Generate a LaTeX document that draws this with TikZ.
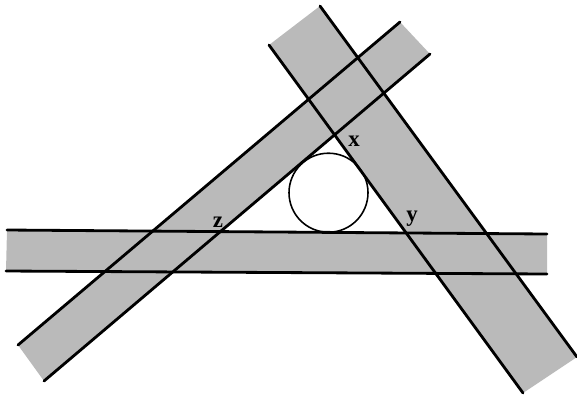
\documentclass[tikz,border=0pt]{standalone}
\usepackage{fontspec}
\newfontfamily\labelfont{Liberation Serif}

\begin{document}
\begin{tikzpicture}[
    x=0.02cm, y=-0.02cm,
    band/.style={fill=black!27, draw=none},
    edge/.style={line width=1.6pt, draw=black, line cap=round},
    ring/.style={line width=0.9pt, draw=black, fill=white},
    tag/.style={font=\labelfont\bfseries\fontsize{13}{15}\selectfont, inner sep=0pt}
]
\useasboundingbox (0,0) rectangle (577,397);
% horizontal band
\coordinate (h1) at (7,230);
\coordinate (h2) at (547,234);
\coordinate (h3) at (547,274);
\coordinate (h4) at (6,271);
% rising band
\coordinate (l1) at (18,345);
\coordinate (l2) at (400,22);
\coordinate (l3) at (430,54);
\coordinate (l4) at (44,381);
% falling band
\coordinate (r1) at (269,45);
\coordinate (r2) at (320,6);
\coordinate (r3) at (577,357);
\coordinate (r4) at (523,393);

\fill[band] (h1) -- (h2) -- (h3) -- (h4) -- cycle;
\fill[band] (l1) -- (l2) -- (l3) -- (l4) -- cycle;
\fill[band] (r1) -- (r2) -- (r3) -- (r4) -- cycle;

% white triangle and the circle
\fill[white] (220,232) -- (334.3,135) -- (405,232) -- cycle;
\draw[ring] (328.5,192.7) circle[radius=39.5];

\draw[edge] (h1) -- (h2);
\draw[edge] (h4) -- (h3);
\draw[edge] (l1) -- (l2);
\draw[edge] (l4) -- (l3);
\draw[edge] (r1) -- (r4);
\draw[edge] (r2) -- (r3);

\node[tag] (lx) at (354,141) {x};
\node[tag] (ly) at (412,219) {y};
\node[tag] (lz) at (218,222) {z};
\end{tikzpicture}
\end{document}
